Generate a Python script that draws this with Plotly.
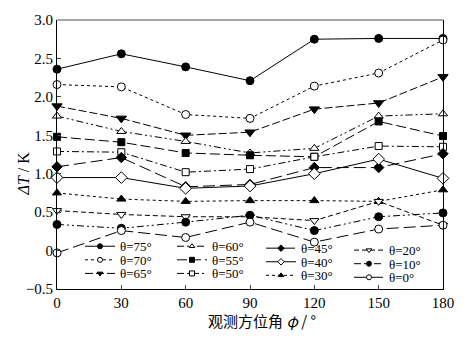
import plotly.graph_objects as go

phi = [0, 30, 60, 90, 120, 150, 180]
d75 = [2.36, 2.56, 2.39, 2.21, 2.75, 2.76, 2.76]
d70 = [2.16, 2.13, 1.77, 1.72, 2.14, 2.31, 2.74]
d65 = [1.88, 1.72, 1.50, 1.54, 1.84, 1.92, 2.26]
d60 = [1.75, 1.55, 1.42, 1.27, 1.33, 1.75, 1.78]
d55 = [1.48, 1.41, 1.27, 1.24, 1.22, 1.68, 1.49]
d50 = [1.29, 1.28, 1.02, 1.06, 1.22, 1.36, 1.35]
d45 = [1.09, 1.21, 0.83, 0.86, 1.08, 1.08, 1.26]
d40 = [0.95, 0.95, 0.81, 0.84, 1.00, 1.19, 0.94]
d30 = [0.75, 0.67, 0.64, 0.65, 0.65, 0.64, 0.79]
d20 = [0.52, 0.47, 0.44, 0.44, 0.39, 0.64, 0.33]
d10 = [0.34, 0.29, 0.37, 0.46, 0.26, 0.44, 0.49]
d0 = [-0.03, 0.26, 0.17, 0.37, 0.11, 0.28, 0.33]

names = ["θ=75°", "θ=70°", "θ=65°", "θ=60°", "θ=55°", "θ=50°",
         "θ=45°", "θ=40°", "θ=30°", "θ=20°", "θ=10°", "θ=0°"]
series = [d75, d70, d65, d60, d55, d50, d45, d40, d30, d20, d10, d0]

yticks = [-0.5, 0, 0.5, 1.0, 1.5, 2.0, 2.5, 3.0]
yticktext = ["−0.5", "0", "0.5", "1.0", "1.5", "2.0", "2.5", "3.0"]
xticks = [0, 30, 60, 90, 120, 150, 180]

# style: (symbol, filled, size, dash)
styles = [
    ("circle", True, 8, "solid"),
    ("circle", False, 8, "dot"),
    ("triangle-down", True, 9, "8px,3px"),
    ("triangle-up", False, 8, "7px,3px,2px,3px,2px,3px"),
    ("square", True, 7, "10px,4px"),
    ("square", False, 7, "7px,3px,2px,3px"),
    ("diamond", True, 8, "12px,5px"),
    ("diamond", False, 9, "solid"),
    ("triangle-up", True, 8, "dot"),
    ("triangle-down", False, 8, "5px,3px"),
    ("circle", True, 8, "7px,3px,2px,3px,2px,3px"),
    ("circle", False, 8, "12px,5px"),
]

fig = go.Figure()
serif = "Liberation Serif"

for name, ys, (sym, filled, sz, dash) in zip(names, series, styles):
    fig.add_trace(go.Scatter(
        x=phi, y=ys, mode="lines+markers", name=name, showlegend=False,
        line=dict(color="black", width=1, dash=dash),
        marker=dict(symbol=sym, size=sz, color="black" if filled else "white",
                    line=dict(color="black", width=1)),
        cliponaxis=False,
    ))

# legend entries (one legend box per entry, placed like the reference)
col_px = [80, 172, 261, 349]
row_py = [[245, 259, 273], [245, 259, 273], [247, 261, 275], [249, 263, 277]]
x0_px, x1_px, ytop_px, ybot_px = 57, 443, 12, 289
for i, (name, (sym, filled, sz, dash)) in enumerate(zip(names, styles)):
    c, r = divmod(i, 3)
    lid = "legend" if i == 0 else f"legend{i+1}"
    fig.add_trace(go.Scatter(
        x=[None], y=[None], mode="lines+markers", name=name, legend=lid,
        line=dict(color="black", width=1, dash=dash),
        marker=dict(symbol=sym, size=5, color="black" if filled else "white",
                    line=dict(color="black", width=1)),
    ))
    fig.update_layout({lid: dict(
        x=(col_px[c] - x0_px) / (x1_px - x0_px),
        y=(ybot_px - row_py[c][r]) / (ybot_px - ytop_px),
        xanchor="left", yanchor="middle",
        bgcolor="rgba(0,0,0,0)", borderwidth=0,
        font=dict(family=serif, size=13, color="black"),
        itemclick=False, itemdoubleclick=False,
    )})

fig.update_layout(
    width=468, height=338,
    margin=dict(l=57, r=25, t=12, b=49),
    paper_bgcolor="white", plot_bgcolor="white",
    font=dict(family=serif, size=15, color="black"),
    xaxis=dict(range=[0, 180], tickvals=xticks, ticks="inside", ticklen=4,
               showgrid=False, zeroline=False, showline=True, linecolor="black",
               linewidth=1, tickfont=dict(family=serif, size=15)),
    yaxis=dict(range=[-0.5, 3.0], tickvals=yticks, ticktext=yticktext,
               ticks="inside", ticklen=4, showgrid=False, zeroline=False,
               showline=True, linecolor="black", linewidth=1, mirror=True,
               tickfont=dict(family=serif, size=15)),
    shapes=[dict(type="line", xref="paper", yref="paper", x0=0, x1=1, y0=1, y1=1,
                 line=dict(color="#888888", width=1.5))],
    annotations=[
        dict(text="<i>ΔT</i> / K", xref="paper", yref="paper",
             x=-0.115, y=0.43, showarrow=False, textangle=-90,
             font=dict(family=serif, size=16)),
        dict(text="观测方位角 <i>φ</i> / °", xref="paper", yref="paper",
             x=0.53, y=-0.072, showarrow=False, yanchor="top",
             font=dict(family="Noto Sans CJK SC", size=15)),
    ],
)

fig.write_html("out.html")
